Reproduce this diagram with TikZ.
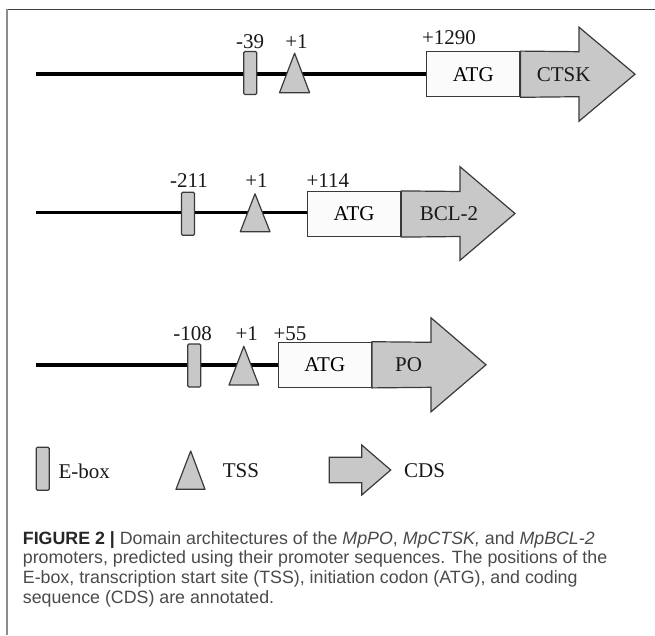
\documentclass[tikz,border=0pt]{standalone}
\usepackage{fontspec}
\setmainfont{Liberation Serif}
\newfontfamily\capfont{Liberation Sans}
\definecolor{boxgray}{HTML}{C8C8C8}
\definecolor{edge}{HTML}{3A3A3A}
\definecolor{captext}{HTML}{4A4A4A}
\tikzset{
  ebox/.style={draw=edge, fill=boxgray, line width=1.2, rounded corners=1.2,
    minimum width=13, minimum height=43, inner sep=0},
  tss/.style={draw=edge, fill=boxgray, line width=1.2, line join=round},
  atgbox/.style={draw=edge, fill=white!97!gray, line width=1.2,
    minimum width=93, minimum height=45, inner sep=0, font=\fontsize{21}{24}\selectfont},
  cds/.style={draw=edge, fill=boxgray, line width=1.2, line join=miter},
  dna/.style={line width=3.8, black},
  lbl/.style={font=\fontsize{21}{24}\selectfont, inner sep=0, text=black!90},
  legtext/.style={font=\fontsize{21}{24}\selectfont, inner sep=0, anchor=west, text=black!90},
  captline/.style={font=\capfont\fontsize{17.8}{19.7}\selectfont, inner sep=0,
    anchor=base west, text=captext},
  frametop/.style={draw=black!75, line width=1.1},
  frameleft/.style={draw=black!45, line width=1.8},
}
\begin{document}
\begin{tikzpicture}[x=1pt,y=-1pt]
\useasboundingbox (0,0) rectangle (655,635);

% frame
\coordinate (fc) at (7.3,9.3);
\coordinate (fr) at (655,9.3);
\coordinate (fb) at (7.3,635);
\draw[frametop] (fc) -- (fr);
\draw[frameleft] (fc) -- (fb);

% ---------- CTSK promoter ----------
\coordinate (s1) at (36,74.2);
\node[atgbox] (atg1) at (473.3,74.2) {};
\draw[dna] (s1) -- (atg1.west);
\draw[cds] (atg1.north east) -- (579,51.7) -- (579,27.2) -- (635,74.2)
  -- (579,121.2) -- (579,96.7) -- (atg1.south east) -- cycle;
\node[atgbox] (atg1b) at (473.3,74.2) {ATG};
\node[lbl] (g1) at (563.7,74.2) {CTSK};
\node[ebox] (eb1) at (250.2,73) {};
\draw[tss] (279.5,92.7) -- (294.6,53.2) -- (309.6,92.7) -- cycle;
\node[lbl] (l1a) at (250,41.7) {-39};
\node[lbl] (l1b) at (296.5,41.7) {+1};
\node[lbl] (l1c) at (449,37.5) {+1290};

% ---------- BCL-2 promoter ----------
\coordinate (s2) at (36,212.5);
\node[atgbox] (atg2) at (354.1,214) {};
\draw[dna] (s2) -- (atg2.west |- s2);
\draw[cds] (atg2.north east) -- (460,191.5) -- (460,166.7) -- (515,213.5)
  -- (460,260.3) -- (460,236.5) -- (atg2.south east) -- cycle;
\node[atgbox] (atg2b) at (354.1,214) {ATG};
\node[lbl] (g2) at (449,213.5) {BCL-2};
\node[ebox] (eb2) at (188,213.8) {};
\draw[tss] (240.3,231.7) -- (255,193.8) -- (270,231.7) -- cycle;
\node[lbl] (l2a) at (189,180.6) {-211};
\node[lbl] (l2b) at (256.5,180.3) {+1};
\node[lbl] (l2c) at (327.8,180.6) {+114};

% ---------- PO promoter ----------
\coordinate (s3) at (36,365);
\node[atgbox] (atg3) at (324.8,364.8) {};
\draw[dna] (s3) -- (atg3.west |- s3);
\draw[cds] (atg3.north east) -- (431,342.3) -- (431,317.8) -- (486,364.8)
  -- (431,411.8) -- (431,387.3) -- (atg3.south east) -- cycle;
\node[atgbox] (atg3b) at (324.8,364.8) {ATG};
\node[lbl] (g3) at (408.5,364.8) {PO};
\node[ebox] (eb3) at (194.3,365.5) {};
\draw[tss] (229,385) -- (243.8,346.3) -- (258.7,385) -- cycle;
\node[lbl] (l3a) at (192.7,333.3) {-108};
\node[lbl] (l3b) at (246.7,333.3) {+1};
\node[lbl] (l3c) at (290,333.3) {+55};

% ---------- legend ----------
\node[ebox] (legE) at (42.7,468.7) {};
\node[legtext] (legEt) at (58.3,471.3) {E-box};
\draw[tss] (176,489.3) -- (190.7,451) -- (205,489.3) -- cycle;
\node[legtext] (legTt) at (222.7,470.3) {TSS};
\draw[cds] (329.3,457.3) -- (361.7,457.3) -- (361.7,445) -- (390.7,470)
  -- (361.7,495) -- (361.7,482.7) -- (329.3,482.7) -- cycle;
\node[legtext] (legCt) at (404,470.3) {CDS};

% ---------- caption ----------
\node[captline] (cap1) at (22.7,544) {{\bfseries\color{black!85}FIGURE 2 |} Domain architectures of the \textit{MpPO}, \textit{MpCTSK,} and \textit{MpBCL-2}};
\node[captline] (cap2) at (22.7,563.7) {promoters, predicted using their promoter sequences. The positions of the};
\node[captline] (cap3) at (22.7,583.4) {E-box, transcription start site (TSS), initiation codon (ATG), and coding};
\node[captline] (cap4) at (22.7,603.1) {sequence (CDS) are annotated.};
\end{tikzpicture}
\end{document}
